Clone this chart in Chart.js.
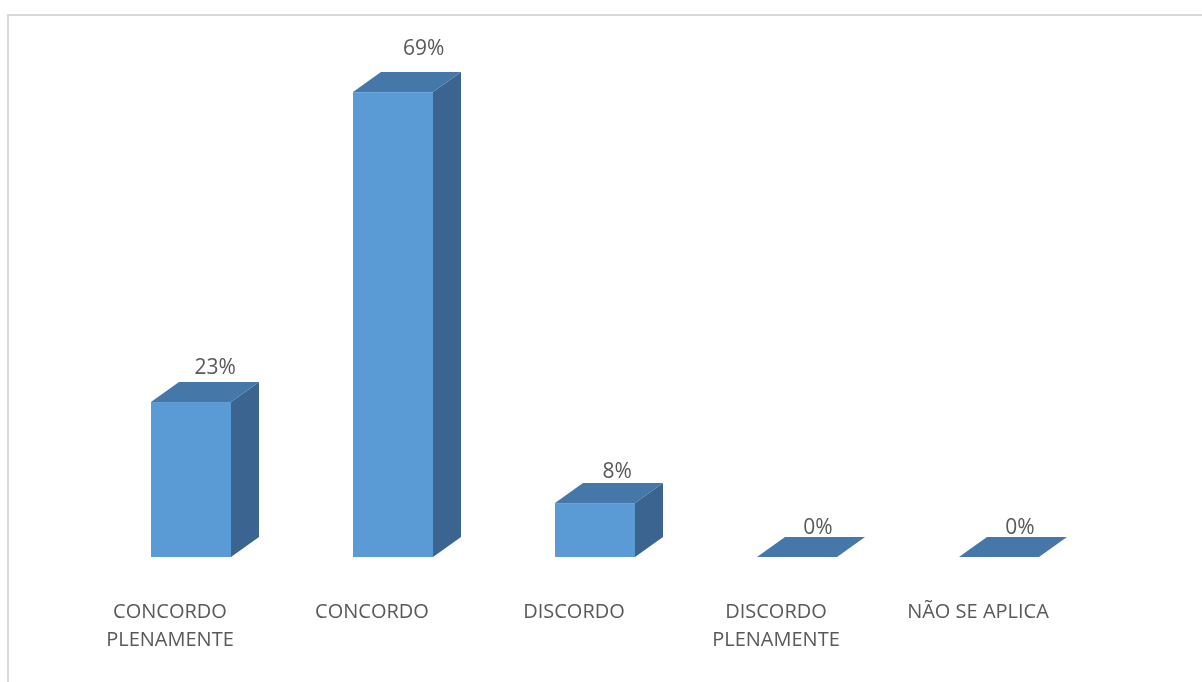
<!DOCTYPE html>
<html>
<head>
<meta charset="utf-8">
<style>
  html, body { margin: 0; padding: 0; background: #ffffff; }
  #wrap { width: 1202px; height: 682px; position: relative; }
</style>
<script src="https://cdn.jsdelivr.net/npm/chart.js@4.4.1/dist/chart.umd.min.js"></script>
</head>
<body>
<div id="wrap"><canvas id="c" width="1202" height="682"></canvas></div>
<script>
const categories = [
  ["CONCORDO", "PLENAMENTE"],
  "CONCORDO",
  "DISCORDO",
  ["DISCORDO", "PLENAMENTE"],
  "NÃO SE APLICA"
];
const values = [23, 69, 8, 0, 0];
const valueLabels = ["23%", "69%", "8%", "0%", "0%"];

const FRONT = "#5B9BD5";
const TOP = "#4677A9";
const SIDE = "#3B6590";
const TEXT = "#595959";
const DX = 28, DY = 20, SHIFT = 21;

const frameAndBars = {
  id: "frameAndBars",
  beforeDraw(chart) {
    const ctx = chart.ctx;
    ctx.save();
    ctx.fillStyle = "#ffffff";
    ctx.fillRect(0, 0, chart.width, chart.height);
    ctx.strokeStyle = "#D9D9D9";
    ctx.lineWidth = 2;
    ctx.beginPath();
    ctx.moveTo(7, 15); ctx.lineTo(chart.width, 15);
    ctx.moveTo(8, 14); ctx.lineTo(8, chart.height);
    ctx.stroke();
    ctx.restore();
  },
  afterDatasetsDraw(chart) {
    const ctx = chart.ctx;
    const meta = chart.getDatasetMeta(0);
    ctx.save();
    meta.data.forEach((bar, i) => {
      const w = bar.width;
      const l = bar.x - w / 2 + SHIFT;
      const r = bar.x + w / 2 + SHIFT;
      const t = bar.y;
      const b = bar.base;
      if (b - t > 0.5) {
        ctx.fillStyle = FRONT;
        ctx.fillRect(l, t, w, b - t);
        ctx.fillStyle = SIDE;
        ctx.beginPath();
        ctx.moveTo(r, t); ctx.lineTo(r + DX, t - DY);
        ctx.lineTo(r + DX, b - DY); ctx.lineTo(r, b);
        ctx.closePath(); ctx.fill();
      }
      ctx.fillStyle = TOP;
      ctx.beginPath();
      ctx.moveTo(l, t); ctx.lineTo(l + DX, t - DY);
      ctx.lineTo(r + DX, t - DY); ctx.lineTo(r, t);
      ctx.closePath(); ctx.fill();

      const v = values[i];
      const cx = bar.x + SHIFT + 21 + 0.14 * v;
      const cy = t - (29 + 0.2 * v);
      ctx.fillStyle = TEXT;
      ctx.font = "21px 'Open Sans'";
      ctx.textAlign = "center";
      ctx.textBaseline = "middle";
      ctx.fillText(valueLabels[i], cx, cy);
    });
    ctx.restore();
  }
};

new Chart(document.getElementById("c"), {
  type: "bar",
  data: {
    labels: categories,
    datasets: [{
      data: values,
      backgroundColor: "rgba(0,0,0,0)",
      borderWidth: 0,
      categoryPercentage: 1,
      barPercentage: 80 / 202
    }]
  },
  options: {
    responsive: false,
    animation: false,
    layout: { padding: { left: 69, right: 123, top: 18, bottom: 0 } },
    plugins: { legend: { display: false }, tooltip: { enabled: false } },
    scales: {
      x: {
        afterFit(scale) { scale.height = 125; },
        grid: { display: false, drawTicks: false },
        border: { display: false },
        ticks: {
          padding: 41,
          color: TEXT,
          maxRotation: 0,
          autoSkip: false,
          font: { family: "'Open Sans'", size: 20, lineHeight: 1.4 }
        }
      },
      y: {
        display: false,
        min: 0,
        max: 80
      }
    }
  },
  plugins: [frameAndBars]
});
</script>
</body>
</html>
